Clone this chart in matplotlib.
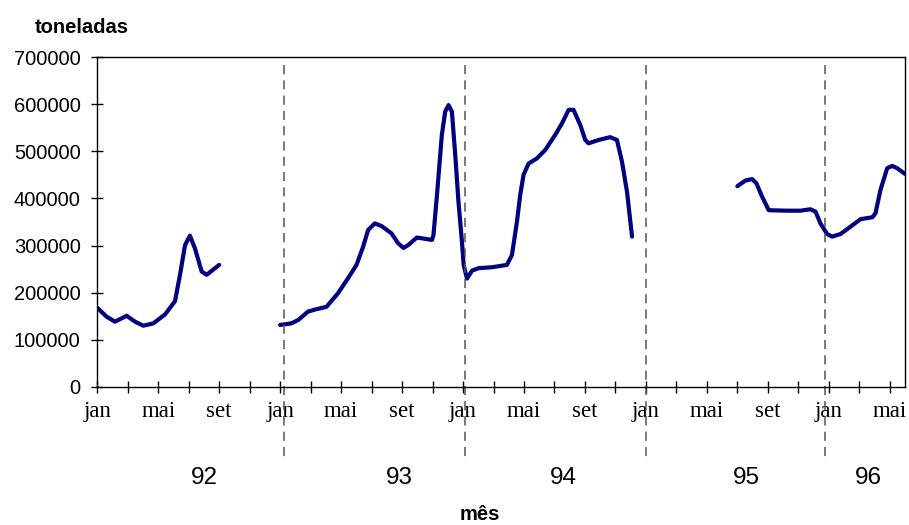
import matplotlib.pyplot as plt
import matplotlib.transforms as mtransforms

# posicao em meses (0 = jan/92) e toneladas
mes_92 = [0, 0.62, 1.16, 1.93, 2.48, 3.02, 3.68, 4.45, 5.10, 5.43, 5.76, 6.08,
          6.41, 6.85, 7.18, 8.0]
ton_92 = [168000, 149000, 138500, 151000, 138500, 130000, 135000, 154000,
          182000, 238000, 301000, 321000, 294000, 245000, 238000, 259000]

mes_93_94 = [12.0, 12.74, 13.18, 13.83, 14.38, 15.04, 15.80, 16.46, 17.01, 17.45,
             17.77, 18.21, 18.65, 19.30, 19.74, 20.09, 20.40, 20.97, 21.96, 22.06,
             22.29, 22.61, 22.83, 23.05, 23.27, 23.49, 23.70, 23.93, 24.04, 24.26,
             24.6, 25.02, 25.90, 26.88, 27.21, 27.54, 27.75, 27.97, 28.30, 28.85,
             29.40, 30.05, 30.49, 30.93, 31.25, 31.69, 32.02, 32.24, 32.90, 33.66,
             34.10, 34.43, 34.76, 35.09]
ton_93_94 = [131500, 135000, 142000, 160000, 165000, 170000, 199000, 231000, 259000, 298000,
             333000, 347000, 341500, 326000, 305000, 295000, 301000, 317000, 312000, 322000,
             407000, 535000, 584000, 598000, 584000, 492000, 393000, 308000, 259000, 230000,
             247000, 252000, 254000, 259000, 280000, 351000, 407000, 450000, 474000, 485000,
             503000, 535000, 559000, 588000, 588000, 556000, 524000, 517000, 524000, 530000,
             524000, 478000, 414000, 319000]

mes_95_96 = [42.0, 42.53, 42.97, 43.25, 43.62, 44.06, 45.27, 46.14, 46.80, 47.13,
             47.45, 47.89, 48.22, 48.77, 49.42, 50.08, 50.85, 51.06, 51.39, 51.83,
             52.16, 52.49, 53.0]
ton_95_96 = [426000, 438000, 441000, 432000, 404000, 375000, 374000, 374000, 377000, 372000,
             347000, 324500, 319000, 324500, 340000, 356000, 360000, 368000, 418000, 464000,
             469000, 464000, 452000]

rotulos_mes = ['jan', 'mai', 'set']
anos = ['92', '93', '94', '95', '96']
pos_anos = [7.0, 19.8, 30.6, 42.6, 50.6]
divisoes = [12.28, 24.14, 36.03, 47.78]

fig = plt.figure(figsize=(9.09, 5.25), dpi=100)
ax = fig.add_axes([0.107, 0.2629, 0.8886, 0.6285])

for m, t in [(mes_92, ton_92), (mes_93_94, ton_93_94), (mes_95_96, ton_95_96)]:
    ax.plot(m, t, color='#000080', lw=3.0, solid_joinstyle='round',
            solid_capstyle='round')

ax.set_xlim(0, 53)
ax.set_ylim(0, 700000)
ax.set_yticks(range(0, 700001, 100000))
ax.set_yticklabels([str(v) for v in range(0, 700001, 100000)],
                   family='Liberation Sans', fontsize=14.5)

ticks = list(range(0, 54, 2))
ax.set_xticks(ticks)
ax.set_xticklabels([rotulos_mes[(t // 4) % 3] if t % 4 == 0 else '' for t in ticks],
                   family='Liberation Serif', fontsize=16.5)
ax.tick_params(direction='inout', length=8, width=1, color='black')
ax.tick_params(axis='y', pad=8)
ax.tick_params(axis='x', pad=6)
for s in ax.spines.values():
    s.set_linewidth(1)

trans = mtransforms.blended_transform_factory(ax.transData, ax.transAxes)
for d in divisoes:
    ax.plot([d, d], [0.976, -0.215], transform=trans, clip_on=False,
            color='#555555', lw=1.1, dashes=(6, 4))

for a, p in zip(anos, pos_anos):
    ax.text(p, -0.275, a, transform=trans, ha='center', va='center',
            family='Liberation Sans', fontsize=17.5)

fig.text(0.0385, 0.948, 'toneladas', family='Liberation Sans', fontsize=14.5,
         fontweight='bold', va='center', ha='left')
ax.text(25.1, -0.385, 'mês', transform=trans, family='Liberation Sans',
        fontsize=14.5, fontweight='bold', ha='center', va='center')

fig.savefig('out.png', dpi=100)
